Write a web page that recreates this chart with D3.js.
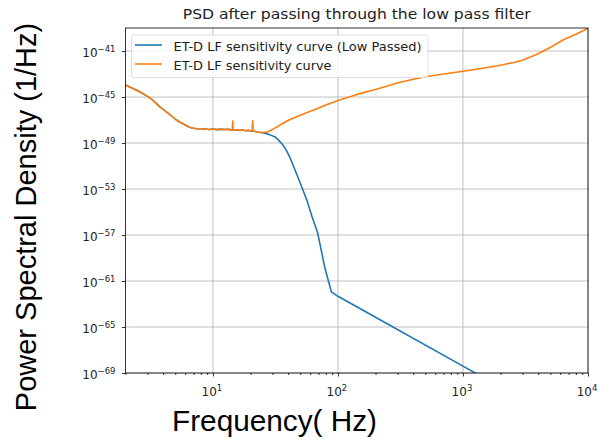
<!DOCTYPE html>
<html>
<head>
<meta charset="utf-8">
<script src="https://cdn.jsdelivr.net/npm/d3@7"></script>
<style>
  html, body { margin: 0; padding: 0; background: #fff; }
  svg { display: block; }
</style>
</head>
<body>
<svg id="chart" width="598" height="440"></svg>
<script>
// Frequencies (Hz) and log10 PSD (1/Hz) for the ET-D LF sensitivity curve
const freqFull = [2, 2.6, 3.2, 3.75, 4.4, 5.1, 5.8, 6.5, 7.0, 7.9, 8.6, 9.3, 10, 10.8, 11.6, 12.4, 13.2, 14.0,
  14.3, 14.4, 14.5, 14.8, 15.6, 16.5, 17.4, 18.3, 19.2, 20.0, 20.6, 20.8, 21.0, 21.4, 22.3, 23.5, 25, 27,
  30, 33, 36.1, 41, 50, 58, 67.2, 80, 100, 130, 160, 200, 293, 400, 542, 750, 1000, 1400, 1850, 2600,
  3000, 3420, 3900, 4370, 5200, 6310, 8000, 10000];
const psdFullLog10 = [-43.96, -44.54, -45.14, -45.84, -46.42, -47.0, -47.35, -47.63, -47.72, -47.8, -47.76, -47.82, -47.78, -47.84, -47.79, -47.83, -47.8, -47.86,
  -47.82, -47.1, -47.84, -47.88, -47.85, -47.9, -47.87, -47.93, -47.9, -47.95, -47.94, -47.08, -47.96, -47.98, -48.02, -48.06, -48.1, -48.05,
  -47.82, -47.56, -47.3, -46.98, -46.58, -46.3, -46.05, -45.7, -45.3, -44.92, -44.62, -44.35, -43.8, -43.45, -43.17, -42.95, -42.76, -42.52, -42.3, -41.98,
  -41.8, -41.55, -41.28, -41.02, -40.58, -40.04, -39.55, -39.03];

// Same curve after the low pass filter
const freqLow = [2, 2.6, 3.2, 3.75, 4.4, 5.1, 5.8, 6.5, 7.0, 7.9, 8.6, 9.3, 10, 10.8, 11.6, 12.4, 13.2, 14.0,
  14.8, 15.6, 16.5, 17.4, 18.3, 19.2, 20.0, 21.4, 22.3, 23.5, 25, 25.9, 28, 31.2, 33.5, 36.3, 38.5, 41.1,
  46.5, 52.5, 57, 62, 68.9, 78.4, 88.7, 100, 200, 1000, 10000];
const psdLowLog10 = [-43.96, -44.54, -45.14, -45.84, -46.42, -47.0, -47.35, -47.63, -47.72, -47.8, -47.76, -47.82, -47.78, -47.84, -47.79, -47.83, -47.8, -47.86,
  -47.88, -47.85, -47.9, -47.87, -47.93, -47.9, -47.95, -47.98, -48.02, -48.06, -48.1, -48.15, -48.25, -48.45, -48.75, -49.17, -49.6, -50.2,
  -51.63, -53.09, -54.1, -55.4, -56.83, -59.8, -61.95, -62.33, -64.15, -68.4, -74.5];

const seriesNames = ["ET-D LF sensitivity curve (Low Passed)", "ET-D LF sensitivity curve"];
const seriesColors = ["#1f77b4", "#ff7f0e"];
const xTickValues = [10, 100, 1000, 10000];
const yTickExponents = [-41, -45, -49, -53, -57, -61, -65, -69];

const W = 598, H = 440;
const margin = { left: 125.5, right: 10, top: 28, bottom: 67 };
const innerW = W - margin.left - margin.right;
const innerH = H - margin.top - margin.bottom;

const svg = d3.select("#chart");
const tickFont = "DejaVu Sans, sans-serif";
const labelFont = "Liberation Sans, Arial, sans-serif";

const x = d3.scaleLog().domain([2, 1e4]).range([margin.left, margin.left + innerW]);
const y = d3.scaleLog().domain([1e-69, 1e-39]).range([margin.top + innerH, margin.top]);

// clip region for the plot area
svg.append("defs").append("clipPath").attr("id", "plotClip")
  .append("rect").attr("x", margin.left).attr("y", margin.top)
  .attr("width", innerW).attr("height", innerH);

// grid
const grid = svg.append("g").attr("stroke", "#b0b0b0").attr("stroke-width", 0.8);
xTickValues.forEach(v => {
  grid.append("line").attr("x1", x(v)).attr("x2", x(v))
    .attr("y1", margin.top).attr("y2", margin.top + innerH);
});
yTickExponents.forEach(e => {
  grid.append("line").attr("x1", margin.left).attr("x2", margin.left + innerW)
    .attr("y1", y(Math.pow(10, e))).attr("y2", y(Math.pow(10, e)));
});

// curves
const line = d3.line().x(d => x(d[0])).y(d => y(d[1]));
const lowData = freqLow.map((f, i) => [f, Math.pow(10, psdLowLog10[i])]);
const fullData = freqFull.map((f, i) => [f, Math.pow(10, psdFullLog10[i])]);
const curves = svg.append("g").attr("clip-path", "url(#plotClip)");
curves.append("path").datum(lowData).attr("d", line)
  .attr("fill", "none").attr("stroke", seriesColors[0]).attr("stroke-width", 1.6)
  .attr("stroke-linejoin", "round");
curves.append("path").datum(fullData).attr("d", line)
  .attr("fill", "none").attr("stroke", seriesColors[1]).attr("stroke-width", 1.6)
  .attr("stroke-linejoin", "round");

// x axis with log minor ticks
const minorX = [];
for (let d = 1; d <= 1000; d *= 10) for (let k = 2; k <= 9; k++) {
  const v = k * d; if (v >= 2 && v <= 1e4) minorX.push(v);
}
const xAxisG = svg.append("g").attr("transform", `translate(0,${margin.top + innerH})`);
xAxisG.call(d3.axisBottom(x).tickValues(minorX).tickSize(2).tickFormat(""));
xAxisG.call(g => g.select(".domain").remove());
const xMajor = svg.append("g").attr("transform", `translate(0,${margin.top + innerH})`)
  .call(d3.axisBottom(x).tickValues(xTickValues).tickSize(3.5).tickSizeOuter(0).tickFormat(""));
xMajor.select(".domain").remove();
svg.selectAll(".tick line").attr("stroke", "#000").attr("stroke-width", 0.8);

xTickValues.forEach(v => {
  const t = svg.append("text").attr("x", x(v) - 1).attr("y", margin.top + innerH + 23)
    .attr("text-anchor", "middle").attr("font-family", tickFont).attr("font-size", 12).attr("fill", "#222");
  t.append("tspan").text("10");
  t.append("tspan").attr("font-size", 8.5).attr("dy", -5).text(String(Math.log10(v)));
});

// y axis
const yAxisG = svg.append("g").attr("transform", `translate(${margin.left},0)`)
  .call(d3.axisLeft(y).tickValues(yTickExponents.map(e => Math.pow(10, e))).tickSize(3.5).tickFormat(""));
yAxisG.select(".domain").remove();
yAxisG.selectAll(".tick line").attr("stroke", "#000").attr("stroke-width", 0.8);
yTickExponents.forEach(e => {
  const t = svg.append("text").attr("x", margin.left - 10).attr("y", y(Math.pow(10, e)) + 5.5)
    .attr("text-anchor", "end").attr("font-family", tickFont).attr("font-size", 12).attr("fill", "#222");
  t.append("tspan").text("10");
  t.append("tspan").attr("font-size", 8.5).attr("dy", -5).text("\u2212" + Math.abs(e));
});

// frame
svg.append("rect").attr("x", margin.left).attr("y", margin.top)
  .attr("width", innerW).attr("height", innerH)
  .attr("fill", "none").attr("stroke", "#000").attr("stroke-width", 0.8);

// legend
const lg = svg.append("g");
lg.append("rect").attr("x", 131.5).attr("y", 35).attr("width", 296.5).attr("height", 42.5).attr("rx", 2.5)
  .attr("fill", "#fff").attr("fill-opacity", 0.8).attr("stroke", "#d5d5d5").attr("stroke-width", 0.8);
const legendWidths = [248, 158];
seriesNames.forEach((name, i) => {
  const cy = 45 + i * 19;
  lg.append("line").attr("x1", 135).attr("x2", 162).attr("y1", cy).attr("y2", cy)
    .attr("stroke", seriesColors[i]).attr("stroke-width", 1.6);
  lg.append("text").attr("x", 173.5).attr("y", cy + 5.5).attr("font-family", tickFont)
    .attr("font-size", 12.3).attr("fill", "#222")
    .attr("textLength", legendWidths[i]).attr("lengthAdjust", "spacingAndGlyphs").text(name);
});

// title and axis labels
svg.append("text").attr("x", margin.left + innerW / 2).attr("y", 19).attr("text-anchor", "middle")
  .attr("font-family", tickFont).attr("font-size", 14).attr("fill", "#222")
  .attr("textLength", 348).attr("lengthAdjust", "spacingAndGlyphs")
  .text("PSD after passing through the low pass filter");
svg.append("text").attr("x", 172).attr("y", 431)
  .attr("font-family", labelFont).attr("font-size", 29).attr("fill", "#000")
  .attr("textLength", 205).attr("lengthAdjust", "spacingAndGlyphs")
  .text("Frequency( Hz)");
svg.append("text").attr("transform", "translate(36,217) rotate(-90)").attr("text-anchor", "middle")
  .attr("font-family", labelFont).attr("font-size", 29).attr("fill", "#000")
  .text("Power Spectral Density (1/Hz)");
</script>
</body>
</html>
